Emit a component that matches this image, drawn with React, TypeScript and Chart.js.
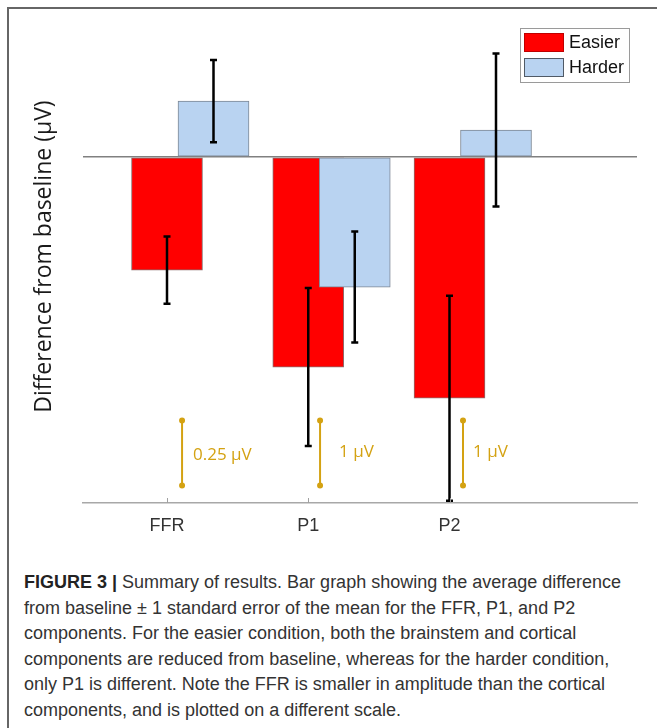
import React, { useEffect, useRef } from 'react';
import { Chart, registerables } from 'chart.js';

Chart.register(...registerables);

// ---- data ----
const categories = ['FFR', 'P1', 'P2'];
const seriesNames = ['Easier', 'Harder'];
// mean difference from baseline (µV)
const easierMean = [-0.435, -3.23, -3.71];
const harderMean = [0.215, -2.0, 0.415];
// ±1 standard error (µV)
const easierSE = [0.129, 1.215, 1.577];
const harderSE = [0.158, 0.854, 1.177];
// µV represented by one axis unit (FFR is plotted on a different scale)
const plotScaleUV = [0.25, 1, 1];
// positions on the x axis
const groupX = [1, 2, 3];
const scaleBarX = [0.942, 1.919, 2.931];
const scaleBarLabels = ['0.25 µV', '1 µV', '1 µV'];
const scaleBarBottom = -5.05;

// ---- style ----
const RED = '#ff0000';
const BLUE = '#b9d3f1';
const GOLD = '#d4a212';
const BAR_OFFSET = 0.1646;
const scaleLabelGap = [11, 19, 10];
const scaleLabelDy = [2, -1, -1];
// category ticks sit under the Easier bars
const tickX = groupX.map((g) => g - BAR_OFFSET);

const errorBarsPlugin = {
  id: 'errorBars',
  afterDatasetsDraw(chart: any) {
    const { ctx, scales } = chart;
    const x = scales.x;
    const y = scales.y;
    const seList = [easierSE, harderSE];
    chart.data.datasets.forEach((ds: any, di: number) => {
      ds.data.forEach((pt: any, i: number) => {
        const px = x.getPixelForValue(pt.x);
        const e = seList[di][i] / plotScaleUV[i];
        const y1 = y.getPixelForValue(pt.y + e);
        const y2 = y.getPixelForValue(pt.y - e);
        ctx.save();
        ctx.strokeStyle = '#000';
        ctx.lineWidth = 2.5;
        ctx.beginPath();
        ctx.moveTo(px, y1);
        ctx.lineTo(px, y2);
        ctx.moveTo(px - 3.5, y1);
        ctx.lineTo(px + 3.5, y1);
        ctx.moveTo(px - 3.5, y2);
        ctx.lineTo(px + 3.5, y2);
        ctx.stroke();
        ctx.restore();
      });
    });
  },
};

const decorPlugin = {
  id: 'decor',
  afterDraw(chart: any) {
    const { ctx, scales } = chart;
    const x = scales.x;
    const y = scales.y;
    const axisY = chart.chartArea.bottom;
    ctx.save();
    // inward ticks
    ctx.strokeStyle = '#a0a0a0';
    ctx.lineWidth = 1;
    tickX.forEach((v) => {
      const px = Math.round(x.getPixelForValue(v)) + 0.5;
      ctx.beginPath();
      ctx.moveTo(px, axisY);
      ctx.lineTo(px, axisY - 5);
      ctx.stroke();
    });
    // scale bars
    scaleBarX.forEach((v, i) => {
      const px = x.getPixelForValue(v);
      const yTop = y.getPixelForValue(scaleBarBottom + 1);
      const yBot = y.getPixelForValue(scaleBarBottom);
      ctx.strokeStyle = GOLD;
      ctx.fillStyle = GOLD;
      ctx.lineWidth = 2;
      ctx.beginPath();
      ctx.moveTo(px, yTop);
      ctx.lineTo(px, yBot);
      ctx.stroke();
      ctx.beginPath();
      ctx.arc(px, yTop, 3, 0, Math.PI * 2);
      ctx.arc(px, yBot, 3, 0, Math.PI * 2);
      ctx.fill();
      ctx.font = '17px "Open Sans"';
      ctx.textBaseline = 'middle';
      ctx.textAlign = 'left';
      ctx.fillText(scaleBarLabels[i], px + scaleLabelGap[i], (yTop + yBot) / 2 + scaleLabelDy[i]);
    });
    // legend
    const lx = 520, ly = 28, lw = 109, lh = 54;
    ctx.fillStyle = '#fff';
    ctx.fillRect(lx, ly, lw, lh);
    ctx.strokeStyle = '#9a9a9a';
    ctx.lineWidth = 1;
    ctx.strokeRect(lx + 0.5, ly + 0.5, lw, lh);
    const colors = [RED, BLUE];
    seriesNames.forEach((name, i) => {
      const sy = ly + 5 + i * 25;
      ctx.fillStyle = colors[i];
      ctx.fillRect(lx + 4, sy, 40, 19);
      ctx.strokeStyle = i === 0 ? '#c00000' : '#505a66';
      ctx.strokeRect(lx + 4.5, sy + 0.5, 39, 18);
      ctx.fillStyle = '#111';
      ctx.font = '18px "Liberation Sans"';
      ctx.textBaseline = 'middle';
      ctx.textAlign = 'left';
      ctx.fillText(name, lx + 49, sy + 10);
    });
    ctx.restore();
  },
};

function BarChart() {
  const canvasRef = useRef<HTMLCanvasElement | null>(null);
  useEffect(() => {
    if (!canvasRef.current) return;
    const means = [easierMean, harderMean];
    const chart = new Chart(canvasRef.current, {
      type: 'bar',
      data: {
        datasets: seriesNames.map((name, di) => ({
          label: name,
          data: groupX.map((gx, i) => ({
            x: gx + (di === 0 ? -BAR_OFFSET : BAR_OFFSET),
            y: means[di][i] / plotScaleUV[i],
          })),
          backgroundColor: di === 0 ? RED : BLUE,
          borderColor: di === 0 ? '#8a7070' : '#7c8794',
          borderWidth: 1,
          borderSkipped: false,
          barThickness: 71,
          grouped: false,
          order: di === 0 ? 2 : 1,
        })),
      },
      options: {
        animation: false,
        responsive: true,
        maintainAspectRatio: false,
        layout: { padding: { left: 31, right: 20, top: 10, bottom: 0 } },
        plugins: { legend: { display: false }, tooltip: { enabled: false } },
        scales: {
          x: {
            type: 'linear',
            offset: false,
            min: 0.2407,
            max: 4.1628,
            grid: { display: false, drawTicks: false, offset: false },
            border: { display: true, color: '#a8a8a8', width: 1.5 },
            afterBuildTicks: (scale: any) => {
              scale.ticks = tickX.map((v) => ({ value: v }));
            },
            afterFit: (scale: any) => {
              scale.height = 40;
            },
            ticks: {
              autoSkip: false,
              maxRotation: 0,
              padding: 12,
              color: '#333',
              font: { family: '"Liberation Sans"', size: 18 },
              callback: (_v: any, i: number) => categories[i],
            },
          },
          y: {
            type: 'linear',
            min: -5.32,
            max: 2.26,
            afterBuildTicks: (scale: any) => {
              scale.ticks = [{ value: 0 }];
            },
            afterFit: (scale: any) => {
              scale.width = 52;
            },
            grid: { color: '#808080', lineWidth: 1.5, drawTicks: false },
            border: { display: false },
            ticks: { display: false },
            title: {
              display: true,
              text: 'Difference from baseline (µV)',
              color: '#1a1a1a',
              font: { family: '"Open Sans"', size: 23 },
              padding: { top: 0, bottom: 0 },
            },
          },
        },
      },
      plugins: [errorBarsPlugin, decorPlugin],
    });
    return () => chart.destroy();
  }, []);
  return (
    <div style={{ position: 'absolute', left: 0, top: 0, width: 657, height: 543 }}>
      <canvas ref={canvasRef} />
    </div>
  );
}

const captionLines = [
  ' Summary of results. Bar graph showing the average difference',
  'from baseline ± 1 standard error of the mean for the FFR, P1, and P2',
  'components. For the easier condition, both the brainstem and cortical',
  'components are reduced from baseline, whereas for the harder condition,',
  'only P1 is different. Note the FFR is smaller in amplitude than the cortical',
  'components, and is plotted on a different scale.',
];

export default function App() {
  return (
    <div style={{ position: 'fixed', left: 0, top: 0, width: 657, height: 728, background: '#fff', overflow: 'hidden' }}>
      <div style={{ position: 'absolute', left: 7, top: 7, width: 650, height: 2, background: '#666' }} />
      <div style={{ position: 'absolute', left: 7, top: 7, width: 2, height: 721, background: '#666' }} />
      <BarChart />
      <div
        style={{
          position: 'absolute',
          left: 24,
          top: 570,
          fontFamily: '"Liberation Sans", Arial, sans-serif',
          fontSize: 18,
          lineHeight: '25.6px',
          color: '#333',
          whiteSpace: 'nowrap',
        }}
      >
        {captionLines.map((line, i) => (
          <div key={i}>
            {i === 0 && <b style={{ color: '#222' }}>FIGURE 3 |</b>}
            {line}
          </div>
        ))}
      </div>
    </div>
  );
}
